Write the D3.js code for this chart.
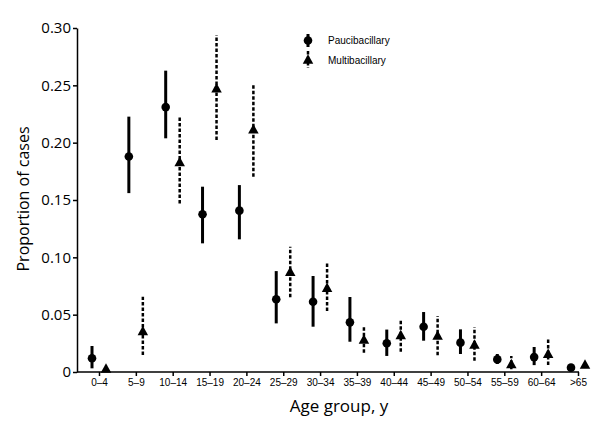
<!DOCTYPE html>
<html>
<head>
<meta charset="utf-8">
<script src="https://cdn.jsdelivr.net/npm/d3@7"></script>
<style>
  html, body { margin: 0; padding: 0; background: #fff; }
  svg { display: block; }
</style>
</head>
<body>
<svg id="chart" width="600" height="424"></svg>
<script>
// ---- data ----
const categories = ["0–4","5–9","10–14","15–19","20–24","25–29","30–34","35–39","40–44","45–49","50–54","55–59","60–64",">65"];
const pauciValue = [0.012, 0.188, 0.231, 0.1375, 0.1407, 0.0634, 0.0613, 0.0433, 0.025, 0.0395, 0.0256, 0.011, 0.013, 0.0038];
const pauciLow   = [0.0032, 0.156, 0.2038, 0.1122, 0.1157, 0.0424, 0.0395, 0.0264, 0.014, 0.0273, 0.0157, 0.007, 0.006, 0.002];
const pauciHigh  = [0.0227, 0.2227, 0.2628, 0.1616, 0.163, 0.088, 0.0837, 0.0654, 0.037, 0.0523, 0.0372, 0.0157, 0.0218, 0.005];
const multiValue = [0.0035, 0.0362, 0.1836, 0.2478, 0.2121, 0.0878, 0.074, 0.0288, 0.0327, 0.0323, 0.0244, 0.0074, 0.0163, 0.007];
const multiLow   = [0.001, 0.0148, 0.147, 0.2023, 0.1703, 0.0651, 0.0532, 0.0168, 0.0177, 0.0145, 0.0099, 0.0023, 0.006, 0.005];
const multiHigh  = [0.006, 0.0657, 0.2227, 0.2939, 0.2518, 0.1093, 0.0962, 0.0401, 0.0453, 0.0488, 0.039, 0.014, 0.0285, 0.009];
const yTickValues = [0, 0.05, 0.10, 0.15, 0.20, 0.25, 0.30];
const yTickLabels = ["0", "0.05", "0.10", "0.15", "0.20", "0.25", "0.30"];
const seriesNames = ["Paucibacillary", "Multibacillary"];
const xTitle = "Age group, y";
const yTitle = "Proportion of cases";

// ---- layout ----
const svg = d3.select("#chart");
const x0 = 77, x1 = 579, yTop = 28, yBot = 372;
const x = d3.scalePoint().domain(categories).range([99, 578]);
const y = d3.scaleLinear().domain([0, 0.30]).range([yBot, yTop]);
const off = 7;

// axes
const yAxis = d3.axisLeft(y).tickValues(yTickValues)
  .tickFormat((d, i) => yTickLabels[i]).tickSize(4).tickSizeOuter(0).tickPadding(2);
const gy = svg.append("g").attr("transform", `translate(${x0},0)`).call(yAxis);
gy.select(".domain").attr("stroke-width", 1.5);
gy.selectAll(".tick line").attr("stroke-width", 1.5);
gy.selectAll(".tick text").attr("font-family", "'Open Sans', sans-serif").attr("font-size", 15).attr("fill", "#000");

const xAxis = d3.axisBottom(x).tickSize(4).tickSizeOuter(0).tickPadding(3);
const gx = svg.append("g").attr("transform", `translate(0,${yBot})`).call(xAxis);
gx.select(".domain").remove();
gx.append("line").attr("x1", x0).attr("x2", x1).attr("y1", 0).attr("y2", 0)
  .attr("stroke", "#000").attr("stroke-width", 1.5);
gx.selectAll(".tick line").attr("stroke-width", 1.5);
gx.selectAll(".tick text").attr("font-family", "'Liberation Sans', Arial, sans-serif").attr("font-size", 10).attr("fill", "#000");

// titles
svg.append("text").attr("transform", `translate(29,199) rotate(-90)`)
  .attr("text-anchor", "middle").attr("font-family", "'Open Sans', sans-serif")
  .attr("font-size", 16).text(yTitle);
svg.append("text").attr("x", 339).attr("y", 412)
  .attr("text-anchor", "middle").attr("font-family", "'Open Sans', sans-serif")
  .attr("font-size", 17).text(xTitle);

// triangle path centred on bounding box
const triW = 10.5, triH = 9.5;
const triPath = `M0,${-triH/2}L${triW/2},${triH/2}L${-triW/2},${triH/2}Z`;

const pts = categories.map((c, i) => ({c, i}));

// error bars
const gp = svg.append("g");
gp.selectAll("line.pe").data(pts).join("line")
  .attr("x1", d => x(d.c) - off).attr("x2", d => x(d.c) - off)
  .attr("y1", d => y(pauciLow[d.i])).attr("y2", d => y(pauciHigh[d.i]))
  .attr("stroke", "#000").attr("stroke-width", 3);
gp.selectAll("line.me").data(pts).join("line")
  .attr("x1", d => x(d.c) + off).attr("x2", d => x(d.c) + off)
  .attr("y1", d => y(multiLow[d.i])).attr("y2", d => y(multiHigh[d.i]))
  .attr("stroke", "#000").attr("stroke-width", 2.5).attr("stroke-dasharray", "3.5,2");

// markers
gp.selectAll("circle.p").data(pts).join("circle")
  .attr("cx", d => x(d.c) - off).attr("cy", d => y(pauciValue[d.i])).attr("r", 4.3).attr("fill", "#000");
gp.selectAll("path.m").data(pts).join("path")
  .attr("d", triPath)
  .attr("transform", d => `translate(${x(d.c) + off},${y(multiValue[d.i])})`).attr("fill", "#000");

// legend
const lg = svg.append("g");
lg.append("line").attr("x1", 308).attr("x2", 308).attr("y1", 34).attr("y2", 47).attr("stroke", "#000").attr("stroke-width", 3);
lg.append("circle").attr("cx", 308).attr("cy", 40.5).attr("r", 4.3).attr("fill", "#000");
lg.append("line").attr("x1", 308).attr("x2", 308).attr("y1", 51).attr("y2", 68).attr("stroke", "#000").attr("stroke-width", 2.5).attr("stroke-dasharray", "3.5,2");
lg.append("path").attr("d", triPath).attr("transform", "translate(308,59)").attr("fill", "#000");
lg.selectAll("text").data(seriesNames).join("text")
  .attr("x", 328).attr("y", (d, i) => 44 + i * 19.5)
  .attr("font-family", "'Liberation Sans', Arial, sans-serif").attr("font-size", 10).text(d => d);
</script>
</body>
</html>
